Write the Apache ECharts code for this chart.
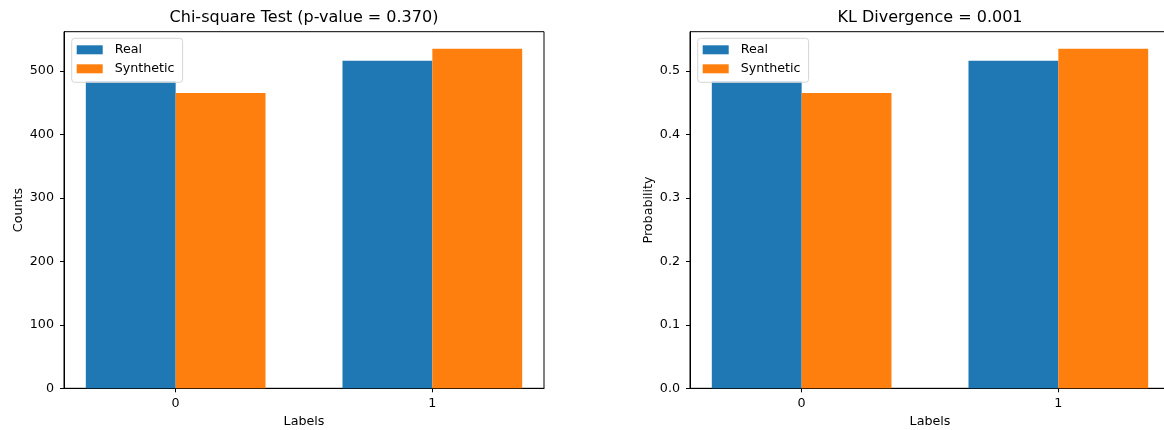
<!DOCTYPE html>
<html>
<head>
<meta charset="utf-8">
<script src="https://cdn.jsdelivr.net/npm/echarts@6/dist/echarts.min.js"></script>
<style>html,body{margin:0;padding:0;background:#fff;overflow:hidden;width:1164px;height:430px}#c{width:1164px;height:430px}</style>
</head>
<body>
<div id="c"></div>
<script>
const categories = [0, 1];
const seriesNames = ['Real', 'Synthetic'];
const realCounts = [484, 516];
const synthCounts = [465, 535];
const realProb = [0.484, 0.516];
const synthProb = [0.465, 0.535];
const countTicks = [0, 100, 200, 300, 400, 500];
const probTicks = [0, 0.1, 0.2, 0.3, 0.4, 0.5];
const titles = ['Chi-square Test (p-value = 0.370)', 'KL Divergence = 0.001'];
const yNames = ['Counts', 'Probability'];
const xName = 'Labels';

const W = 0.35;
const FONT = 'DejaVu Sans';
const FS = 12.7;
const colors = ['#1f77b4', '#ff7f0e'];

function barRender(offset) {
  return function (params, api) {
    const x = api.value(0), v = api.value(1);
    const p0 = api.coord([x + offset, v]);
    const p1 = api.coord([x + offset + W, 0]);
    return { type: 'rect', shape: { x: p0[0], y: p0[1], width: p1[0] - p0[0], height: p1[1] - p0[1] }, style: api.style() };
  };
}

const grids = [
  { left: 64, top: 31.7, width: 480, height: 356.6 },
  { left: 690, top: 31.7, width: 480, height: 356.6 }
];
const yMax = [Math.max(...realCounts, ...synthCounts) * 1.05, Math.max(...realProb, ...synthProb) * 1.05];

const xAxes = grids.map((g, i) => ({
  type: 'value', gridIndex: i, min: -W - (1 + 2 * W) * 0.05, max: 1 + W + (1 + 2 * W) * 0.05,
  name: xName, nameLocation: 'middle', nameGap: 27,
  nameTextStyle: { fontFamily: FONT, fontSize: FS, color: '#000' },
  axisLine: { show: true, onZero: false, lineStyle: { color: '#000', width: 1 } },
  axisTick: { show: true, length: 4, lineStyle: { color: '#000' }, customValues: categories },
  axisLabel: { fontFamily: FONT, fontSize: FS, color: '#000', margin: 9, customValues: categories },
  splitLine: { show: false }
}));
const yAxes = grids.map((g, i) => ({
  type: 'value', gridIndex: i, min: 0, max: yMax[i],
  name: yNames[i], nameLocation: 'middle', nameGap: i === 0 ? 39 : 35,
  nameTextStyle: { fontFamily: FONT, fontSize: FS, color: '#000' },
  axisLine: { show: true, onZero: false, lineStyle: { color: '#000', width: 1 } },
  axisTick: { show: true, length: 4, lineStyle: { color: '#000' }, customValues: i === 0 ? countTicks : probTicks },
  axisLabel: { fontFamily: FONT, fontSize: FS, color: '#000', margin: 10,
    customValues: i === 0 ? countTicks : probTicks,
    formatter: i === 0 ? (v => String(v)) : (v => v.toFixed(1)) },
  splitLine: { show: false }
}));

const dataSets = [[realCounts, synthCounts], [realProb, synthProb]];
const series = [];
dataSets.forEach((ds, gi) => {
  ds.forEach((vals, si) => {
    series.push({
      type: 'custom', name: seriesNames[si], xAxisIndex: gi, yAxisIndex: gi,
      renderItem: barRender(si === 0 ? -W : 0),
      itemStyle: { color: colors[si] },
      encode: { x: 0, y: 1 },
      data: categories.map((c, k) => [c, vals[k]]),
      z: 2
    });
  });
});

const legends = grids.map((g) => ({
  orient: 'vertical', left: g.left + 7.7, top: 38.3,
  data: seriesNames, icon: 'rect', itemWidth: 26, itemHeight: 9, itemGap: 4,
  padding: [4, 8, 6, 5],
  backgroundColor: 'rgba(255,255,255,0.8)', borderColor: '#d6d6d6', borderWidth: 1, borderRadius: 3,
  textStyle: { fontFamily: FONT, fontSize: FS, lineHeight: 15, color: '#000', padding: [0, 0, 0, 7] },
  selectedMode: false, z: 10
}));

const chart = echarts.init(document.getElementById('c'), null, { renderer: 'canvas' });
chart.setOption({
  animation: false,
  backgroundColor: '#fff',
  title: grids.map((g, i) => ({
    text: titles[i], left: g.left + g.width / 2 - 5, top: 5, textAlign: 'center',
    textStyle: { fontFamily: FONT, fontSize: 16, fontWeight: 'normal', color: '#000' }
  })),
  grid: grids.map(g => Object.assign({ show: true, borderColor: '#000', borderWidth: 1, backgroundColor: 'transparent', containLabel: false, outerBoundsMode: 'none' }, g)),
  legend: legends,
  xAxis: xAxes,
  yAxis: yAxes,
  series: series
});
</script>
</body>
</html>
